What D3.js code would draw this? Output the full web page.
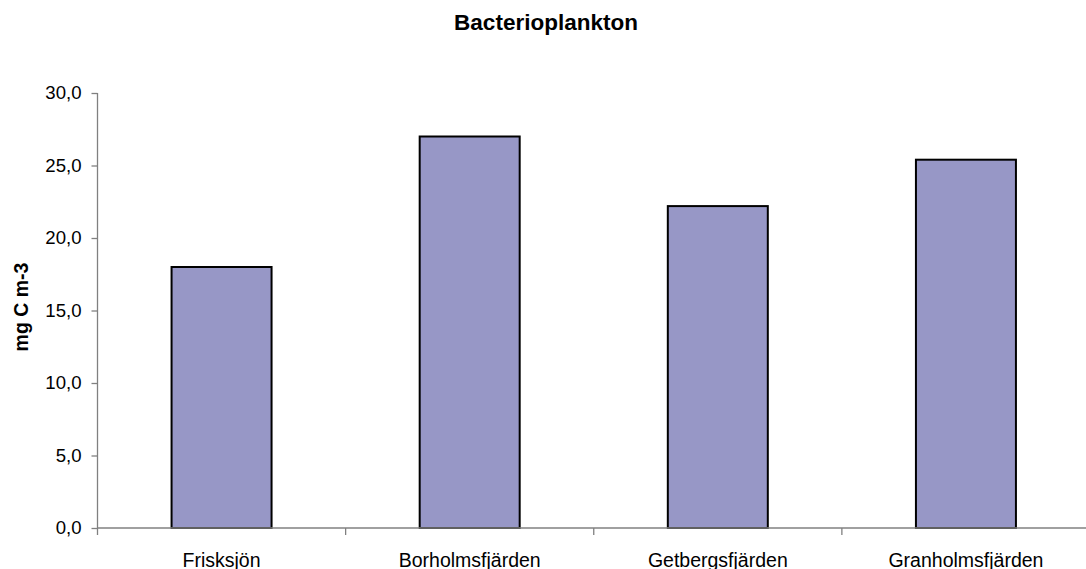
<!DOCTYPE html>
<html>
<head>
<meta charset="utf-8">
<script src="https://cdn.jsdelivr.net/npm/d3@7"></script>
<style>
  body { margin: 0; background: #fff; }
  text { font-family: "Liberation Sans", Arial, sans-serif; fill: #000; }
</style>
</head>
<body>
<div id="chart"></div>
<script>
const categories = ["Frisksjön", "Borholmsfjärden", "Getbergsfjärden", "Granholmsfjärden"];
const values = [18.0, 27.0, 22.2, 25.4];
const yTicks = [0, 5, 10, 15, 20, 25, 30];

const W = 1086, H = 569;
const margin = { top: 93, right: -4, bottom: 41, left: 97.5 };
const width = W - margin.left - margin.right,
    height = H - margin.top - margin.bottom;

const svg = d3.select("#chart").append("svg")
    .attr("width", W)
    .attr("height", H);

const g = svg.append("g")
    .attr("transform", `translate(${margin.left},${margin.top})`);

const xScale = d3.scaleBand()
    .domain(categories)
    .range([0, width])
    .padding(0);

const yScale = d3.scaleLinear()
    .domain([0, 30])
    .range([height, 0]);

// bars
const barW = xScale.bandwidth() * 0.403;
g.append("g")
    .selectAll("rect")
    .data(categories)
    .join("rect")
    .attr("x", d => xScale(d) + (xScale.bandwidth() - barW) / 2)
    .attr("y", (d, i) => yScale(values[i]))
    .attr("width", barW)
    .attr("height", (d, i) => yScale(0) - yScale(values[i]))
    .attr("fill", "#9797c6")
    .attr("stroke", "#000")
    .attr("stroke-width", 2);

// y axis
const yAxis = d3.axisLeft(yScale)
    .tickValues(yTicks)
    .tickSize(6)
    .tickPadding(10)
    .tickFormat(d => d3.format(".1f")(d).replace(".", ","));

g.append("g")
    .attr("class", "axis y-axis")
    .call(yAxis)
    .call(a => a.select(".domain").attr("d", `M0,${yScale(0)}V${yScale(30)}`))
    .call(a => a.selectAll("line, path").attr("stroke", "#808080").attr("stroke-width", 1.3))
    .call(a => a.selectAll("text").attr("font-size", 18.6).attr("font-family", "Liberation Sans, Arial, sans-serif"));

// x axis: line + ticks at band boundaries
const xa = g.append("g")
    .attr("class", "axis x-axis")
    .attr("transform", `translate(0,${height})`);

xa.append("line")
    .attr("x1", 0).attr("x2", width)
    .attr("stroke", "#808080").attr("stroke-width", 1.5);

xa.selectAll(".xtick")
    .data(categories)
    .join("line")
    .attr("class", "xtick")
    .attr("x1", d => xScale(d)).attr("x2", d => xScale(d))
    .attr("y1", 0).attr("y2", 7)
    .attr("stroke", "#808080").attr("stroke-width", 1.3);

xa.selectAll(".xlabel")
    .data(categories)
    .join("text")
    .attr("class", "xlabel")
    .attr("x", d => xScale(d) + xScale.bandwidth() / 2)
    .attr("y", 38.5)
    .attr("text-anchor", "middle")
    .attr("font-size", 19.5)
    .text(d => d);

// title
svg.append("text")
    .attr("x", 546)
    .attr("y", 30)
    .attr("text-anchor", "middle")
    .attr("font-size", 22.5)
    .attr("font-weight", "bold")
    .text("Bacterioplankton");

// y label
svg.append("text")
    .attr("transform", `translate(28,307) rotate(-90)`)
    .attr("text-anchor", "middle")
    .attr("font-size", 19.5)
    .attr("font-weight", "bold")
    .text("mg C m-3");
</script>
</body>
</html>
